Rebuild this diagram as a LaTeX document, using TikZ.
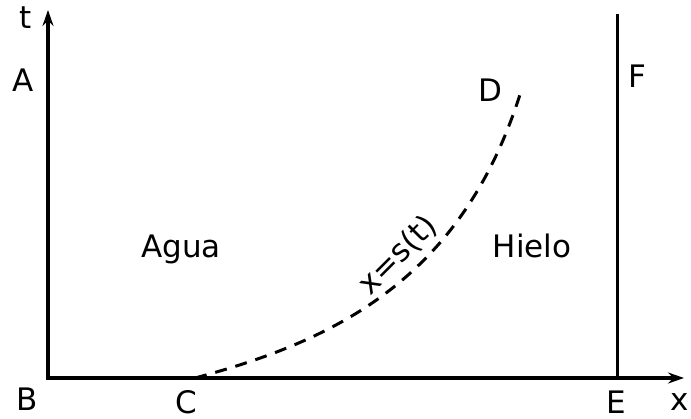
\documentclass[tikz,border=0pt]{standalone}
\usepackage{fontspec}
\setmainfont{DejaVu Sans}
\usepackage{tikz}
\usetikzlibrary{arrows.meta}

\tikzset{
  axis/.style={line width=3.5pt, {Stealth[length=16pt,width=11pt]}-{Stealth[length=16pt,width=11pt]}},
  wall/.style={line width=3pt},
  front/.style={line width=3pt, dash pattern=on 12pt off 9pt},
  lbl/.style={font=\fontsize{31}{37}\selectfont, anchor=base, inner sep=0pt}
}

\begin{document}
\begin{tikzpicture}[x=1pt,y=1pt]
  \useasboundingbox (0,0) rectangle (691,418);
  % Axes and points
  \coordinate (O) at (48,40);
  \coordinate (ttop) at (48,408);
  \coordinate (xtip) at (684,40);
  \coordinate (Ebot) at (617,40);
  \coordinate (Etop) at (617,404);
  \coordinate (Cpt) at (195,40);
  \coordinate (Dpt) at (522,330);
  \draw[axis] (ttop) -- (O) -- (xtip);
  \draw[wall] (Ebot) -- (Etop);
  % Free boundary
  \draw[front] (Cpt) .. controls (337,78) and (464,140) .. (Dpt);
  \node[lbl, anchor=center, rotate=45] (front) at (398,163) {x=s(t)};
  % Labels
  \node[lbl] (t) at (26,389) {t};
  \node[lbl] (A) at (23,326) {A};
  \node[lbl] (B) at (27,8) {B};
  \node[lbl] (C) at (186,5) {C};
  \node[lbl] (E) at (616,5) {E};
  \node[lbl] (x) at (680,8) {x};
  \node[lbl] (D) at (490,316) {D};
  \node[lbl] (F) at (637,330) {F};
  \node[lbl] (agua) at (181,160) {Agua};
  \node[lbl] (hielo) at (532,160) {Hielo};
\end{tikzpicture}
\end{document}
